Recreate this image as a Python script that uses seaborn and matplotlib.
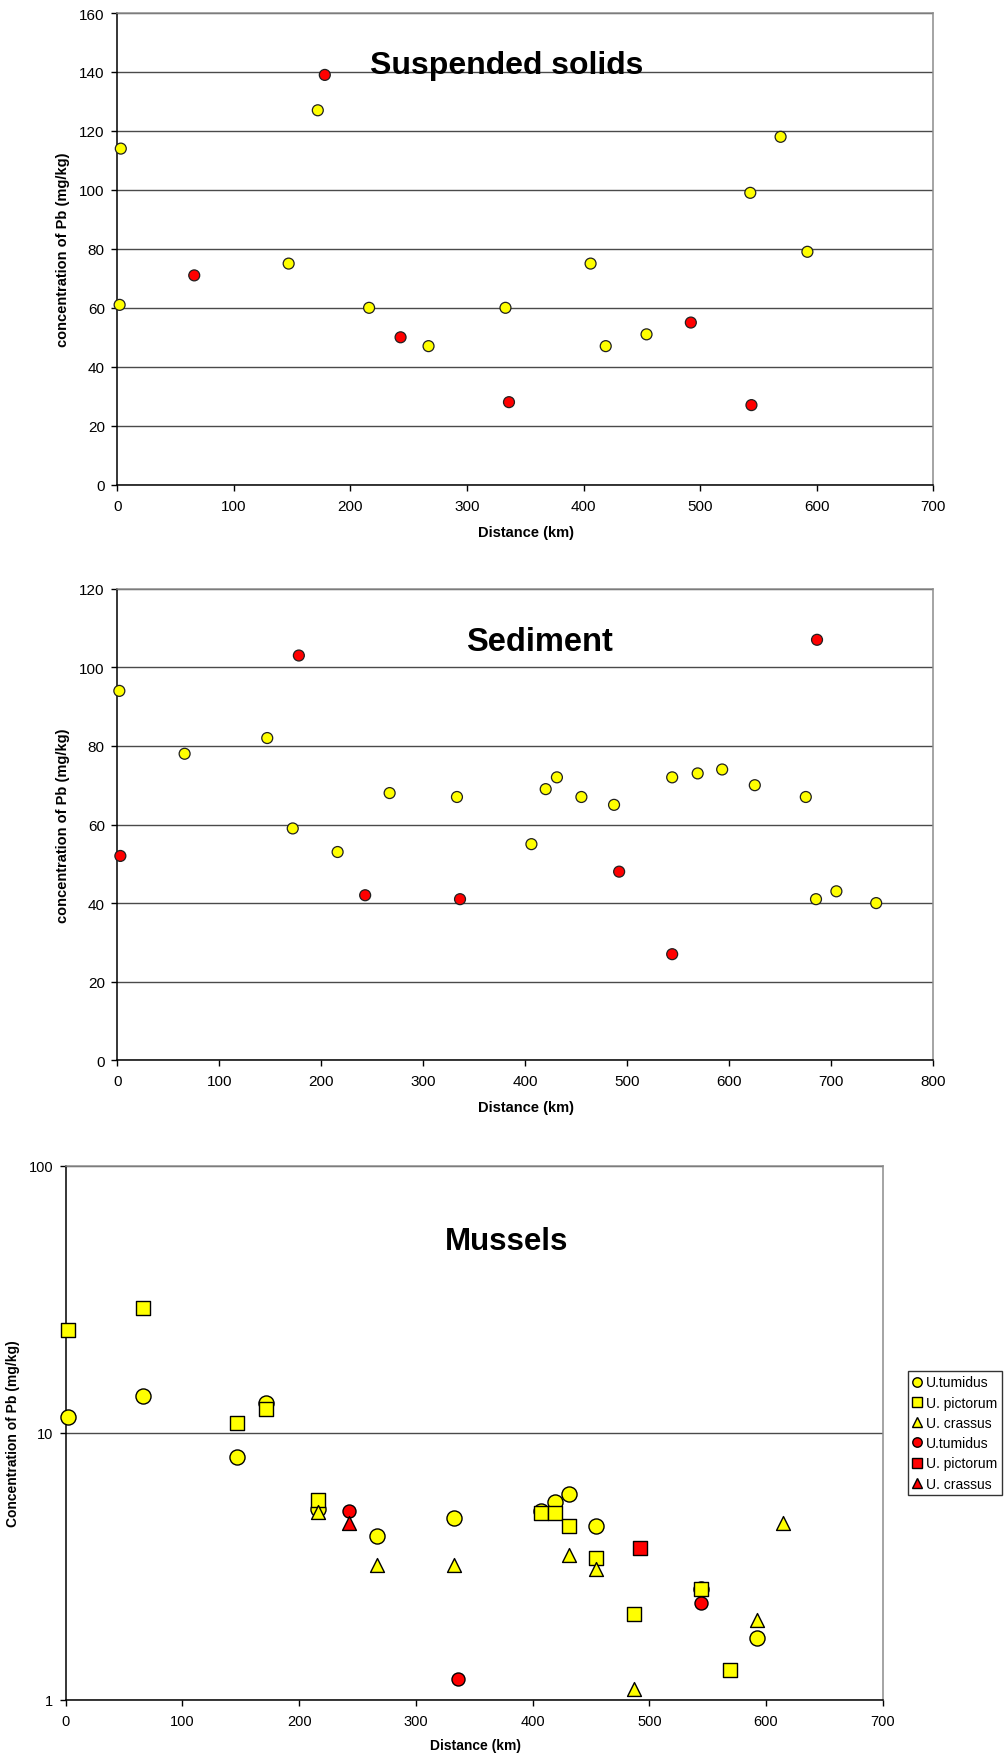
import pandas as pd
import matplotlib
matplotlib.use("Agg")
import matplotlib.pyplot as plt
from matplotlib.lines import Line2D
from matplotlib.ticker import FixedLocator, FuncFormatter, NullLocator, MultipleLocator
import seaborn as sns

# ---------------- Suspended solids: Pb (mg/kg) vs distance (km) ----------------
ss_yellow_km = [3, 2, 147, 172, 216, 267, 333, 406, 419, 454, 543, 569, 592]
ss_yellow_pb = [114, 61, 75, 127, 60, 47, 60, 75, 47, 51, 99, 118, 79]
ss_red_km = [66, 178, 243, 336, 492, 544]
ss_red_pb = [71, 139, 50, 28, 55, 27]

# ---------------- Sediment ----------------
sed_yellow_km = [2, 66, 147, 172, 216, 267, 333, 406, 420, 431, 455, 487,
                 544, 569, 593, 625, 675, 685, 705, 744]
sed_yellow_pb = [94, 78, 82, 59, 53, 68, 67, 55, 69, 72, 67, 65,
                 72, 73, 74, 70, 67, 41, 43, 40]
sed_red_km = [3, 178, 243, 336, 492, 544, 686]
sed_red_pb = [52, 103, 42, 41, 48, 27, 107]

# ---------------- Mussels (log scale) ----------------
tum_yellow_km = [2, 66, 147, 172, 216, 267, 333, 407, 419, 431, 454, 544, 592]
tum_yellow_pb = [11.5, 13.7, 8.1, 12.9, 5.2, 4.1, 4.8, 5.1, 5.5, 5.9, 4.5, 2.6, 1.7]
pic_yellow_km = [2, 66, 147, 172, 216, 407, 419, 431, 454, 487, 544, 569]
pic_yellow_pb = [24.3, 29.5, 10.9, 12.3, 5.6, 5.0, 5.0, 4.5, 3.4, 2.1, 2.6, 1.3]
cra_yellow_km = [216, 267, 333, 431, 454, 487, 592, 615]
cra_yellow_pb = [5.05, 3.2, 3.2, 3.5, 3.1, 1.1, 2.0, 4.6]
tum_red_km = [243, 336, 544]
tum_red_pb = [5.1, 1.2, 2.3]
pic_red_km = [492]
pic_red_pb = [3.7]
cra_red_km = [243]
cra_red_pb = [4.6]

species_labels = ["U.tumidus", "U. pictorum", "U. crassus"]

YELLOW = "#ffff00"
RED = "#ff0000"
EDGE = "#202020"
GRID = "#4a4a4a"
BORDER = "#8c8c8c"

sns.set_theme(style="white")
plt.rcParams["font.family"] = ["Liberation Sans", "DejaVu Sans"]
plt.rcParams.update({
    "text.color": "black",
    "axes.labelcolor": "black",
    "xtick.color": "black",
    "ytick.color": "black",
})

W, H = 1005, 1756
fig = plt.figure(figsize=(W / 100, H / 100), dpi=100)


def axes_px(left, top, right, bottom):
    return fig.add_axes([left / W, 1 - bottom / H, (right - left) / W, (bottom - top) / H])


def style_axes(ax, tick_size=11):
    for side in ("left", "bottom"):
        ax.spines[side].set_color("black")
        ax.spines[side].set_linewidth(1.1)
    for side in ("top", "right"):
        ax.spines[side].set_color(BORDER)
        ax.spines[side].set_linewidth(1.1)
    ax.tick_params(axis="both", which="major", direction="out", length=4, width=1,
                   color="black", labelsize=tick_size, labelcolor="black",
                   bottom=True, left=True, top=False, right=False)
    ax.tick_params(axis="x", pad=6)
    ax.tick_params(axis="y", pad=5)
    ax.yaxis.grid(True, color=GRID, linewidth=1.0)
    ax.xaxis.grid(False)
    ax.set_axisbelow(True)
    ax.set_facecolor("white")


def two_group_panel(ax, yk, yv, rk, rv, xmax, ymax, ystep):
    df = pd.DataFrame({
        "km": list(yk) + list(rk),
        "pb": list(yv) + list(rv),
        "group": ["yellow"] * len(yk) + ["red"] * len(rk),
    })
    sns.scatterplot(data=df, x="km", y="pb", hue="group",
                    palette={"yellow": YELLOW, "red": RED},
                    s=62, edgecolor=EDGE, linewidth=0.9, legend=False,
                    ax=ax, clip_on=False, zorder=3)
    ax.set_xlim(0, xmax)
    ax.set_ylim(0, ymax)
    ax.xaxis.set_major_locator(MultipleLocator(100))
    ax.yaxis.set_major_locator(MultipleLocator(ystep))
    style_axes(ax)
    ax.set_xlabel("Distance (km)", fontsize=10.5, fontweight="bold")
    ax.set_ylabel("concentration of Pb (mg/kg)", fontsize=10.5, fontweight="bold")
    ax.xaxis.set_label_coords(0.5006, -0.085)
    ax.yaxis.set_label_coords(-0.058, 0.5)


# Panel 1: suspended solids
ax1 = axes_px(117.3, 14, 933.3, 485.7)
two_group_panel(ax1, ss_yellow_km, ss_yellow_pb, ss_red_km, ss_red_pb, 700, 160, 20)
fig.text(507 / W, 1 - 74 / H, "Suspended solids", ha="center", va="baseline",
         fontsize=23, fontweight="bold")

# Panel 2: sediment
ax2 = axes_px(117.3, 589.7, 933.3, 1061.3)
two_group_panel(ax2, sed_yellow_km, sed_yellow_pb, sed_red_km, sed_red_pb, 800, 120, 20)
fig.text(539 / W, 1 - 651 / H, "Sediment", ha="center", va="baseline",
         fontsize=23.5, fontweight="bold")

# Panel 3: mussels on a log axis
ax3 = axes_px(65.7, 1167, 882.7, 1701)
mussel_series = [
    (tum_yellow_km, tum_yellow_pb, "o", YELLOW, 118, species_labels[0]),
    (pic_yellow_km, pic_yellow_pb, "s", YELLOW, 92, species_labels[1]),
    (cra_yellow_km, cra_yellow_pb, "^", YELLOW, 100, species_labels[2]),
    (tum_red_km, tum_red_pb, "o", RED, 88, species_labels[0]),
    (pic_red_km, pic_red_pb, "s", RED, 92, species_labels[1]),
    (cra_red_km, cra_red_pb, "^", RED, 100, species_labels[2]),
]
handles, labels = [], []
for km, pb, mk, col, size, lab in mussel_series:
    sns.scatterplot(x=km, y=pb, marker=mk, color=col, s=size, edgecolor="black",
                    linewidth=1.0, ax=ax3, clip_on=False, zorder=3, legend=False)
    handles.append(Line2D([], [], linestyle="none", marker=mk, markersize=6.8,
                          markerfacecolor=col, markeredgecolor="black",
                          markeredgewidth=1.0))
    labels.append(lab)

ax3.set_yscale("log")
ax3.set_xlim(0, 700)
ax3.set_ylim(1, 100)
ax3.xaxis.set_major_locator(MultipleLocator(100))
ax3.yaxis.set_major_locator(FixedLocator([1, 10, 100]))
ax3.yaxis.set_major_formatter(FuncFormatter(lambda v, p: f"{v:g}"))
ax3.yaxis.set_minor_locator(NullLocator())
style_axes(ax3, tick_size=10.5)
ax3.set_xlabel("Distance (km)", fontsize=10, fontweight="bold")
ax3.set_ylabel("Concentration of Pb (mg/kg)", fontsize=10, fontweight="bold")
ax3.xaxis.set_label_coords(0.501, -0.072)
ax3.yaxis.set_label_coords(-0.056, 0.5)
fig.text(506.7 / W, 1 - 1249.7 / H, "Mussels", ha="center", va="baseline",
         fontsize=22.5, fontweight="bold")

leg = fig.legend(handles, labels, loc="upper left",
                 bbox_to_anchor=(907.5 / W, 1 - 1371.5 / H),
                 frameon=True, fancybox=False, shadow=False, fontsize=10,
                 handlelength=0.7, handletextpad=0.3, borderpad=0.35,
                 labelspacing=0.45, borderaxespad=0.0)
leg.get_frame().set_edgecolor("black")
leg.get_frame().set_linewidth(1.0)
leg.get_frame().set_facecolor("white")

fig.savefig("out.png", dpi=100, facecolor="white")
